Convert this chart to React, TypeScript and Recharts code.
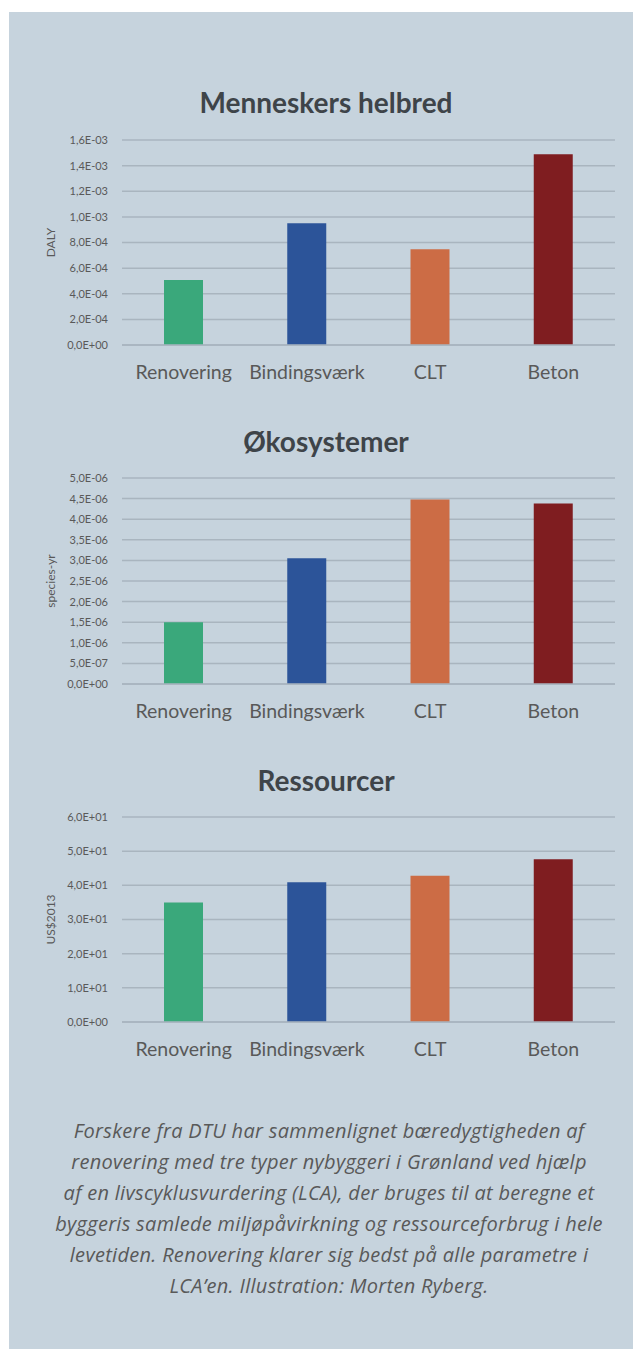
import React from "react";
import { BarChart, Bar, Cell, XAxis, YAxis, CartesianGrid } from "recharts";

const categories = ["Renovering", "Bindingsværk", "CLT", "Beton"];

const helbredValues = [5.07e-4, 9.5e-4, 7.47e-4, 1.489e-3];
const helbredTicks = [0, 2e-4, 4e-4, 6e-4, 8e-4, 1e-3, 1.2e-3, 1.4e-3, 1.6e-3];

const okoValues = [1.5e-6, 3.05e-6, 4.48e-6, 4.38e-6];
const okoTicks = [0, 5e-7, 1e-6, 1.5e-6, 2e-6, 2.5e-6, 3e-6, 3.5e-6, 4e-6, 4.5e-6, 5e-6];

const ressourceValues = [35.0, 40.9, 42.8, 47.6];
const ressourceTicks = [0, 10, 20, 30, 40, 50, 60];

const BAR_COLORS = ["#3aa87b", "#2c5499", "#cc6c45", "#7f1d20"];

const captionLines = [
  "Forskere fra DTU har sammenlignet bæredygtigheden af",
  "renovering med tre typer nybyggeri i Grønland ved hjælp",
  "af en livscyklusvurdering (LCA), der bruges til at beregne et",
  "byggeris samlede miljøpåvirkning og ressourceforbrug i hele",
  "levetiden. Renovering klarer sig bedst på alle parametre i",
  "LCA’en. Illustration: Morten Ryberg.",
];

const FONT = "Lato, 'Open Sans', sans-serif";
const GRID = "#a9b5bf";
const TEXT = "#595959";

// 1,6E-03 style labels like Excel (Danish decimal comma)
const fmtExp = (v: number) => {
  if (v === 0) return "0,0E+00";
  const [m, e] = v.toExponential(1).split("e");
  const n = parseInt(e, 10);
  return `${m.replace(".", ",")}E${n < 0 ? "-" : "+"}${String(Math.abs(n)).padStart(2, "0")}`;
};

const yLabel = (text: string) => (props: any) => {
  const vb = props.viewBox || {};
  const cy = vb.y + vb.height / 2;
  return (
    <text
      x={50}
      y={cy}
      transform={`rotate(-90, 50, ${cy})`}
      textAnchor="middle"
      dominantBaseline="central"
      fontSize={12}
      fill={TEXT}
      fontFamily={FONT}
    >
      {text}
    </text>
  );
};

interface SectionProps {
  top: number;
  title: string;
  unit: string;
  values: number[];
  ticks: number[];
  plotTop: number;
  plotBottom: number;
}

function Section({ top, title, unit, values, ticks, plotTop, plotBottom }: SectionProps) {
  const data = categories.map((name, i) => ({ name, value: values[i] }));
  return (
    <div style={{ position: "absolute", left: 0, top, width: 633, height: plotBottom + 40 }}>
      <div
        style={{
          position: "absolute",
          left: 0,
          width: 652,
          top: 7,
          textAlign: "center",
          fontFamily: FONT,
          fontWeight: 700,
          fontSize: 28,
          lineHeight: "30px",
          color: "#3e4449",
        }}
      >
        {title}
      </div>
      <BarChart
        width={633}
        height={plotBottom + 40}
        data={data}
        margin={{ top: plotTop, right: 18, left: 0, bottom: 0 }}
        style={{ fontFamily: FONT }}
      >
        <CartesianGrid vertical={false} stroke={GRID} strokeWidth={1.5} />
        <XAxis
          dataKey="name"
          height={40}
          tickLine={false}
          axisLine={{ stroke: GRID, strokeWidth: 1.5 }}
          tickSize={0}
          tickMargin={20}
          interval={0}
          tick={{ fontSize: 19.5, fill: TEXT, fontFamily: FONT }}
        />
        <YAxis
          width={122}
          domain={[ticks[0], ticks[ticks.length - 1]]}
          ticks={ticks}
          interval={0}
          tickFormatter={fmtExp}
          axisLine={false}
          tickLine={false}
          tickSize={0}
          tickMargin={14}
          tick={{ fontSize: 11, fill: TEXT, fontFamily: FONT }}
          label={yLabel(unit)}
        />
        <Bar dataKey="value" barSize={39} isAnimationActive={false}>
          {data.map((_, i) => (
            <Cell key={`bar-${i}`} fill={BAR_COLORS[i]} />
          ))}
        </Bar>
      </BarChart>
    </div>
  );
}

export default function App() {
  return (
    <div style={{ position: "absolute", left: 0, top: 0, width: 633, height: 1349, background: "#ffffff" }}>
      <div style={{ position: "absolute", left: 9, top: 12, width: 624, height: 1337, background: "#c6d3dd" }} />
      <Section top={80} title="Menneskers helbred" unit="DALY" values={helbredValues} ticks={helbredTicks} plotTop={60} plotBottom={265} />
      <Section top={419} title="Økosystemer" unit="species-yr" values={okoValues} ticks={okoTicks} plotTop={59} plotBottom={265} />
      <Section top={758} title="Ressourcer" unit="US$2013" values={ressourceValues} ticks={ressourceTicks} plotTop={59} plotBottom={264} />
      {/* billedtekst */}
      <div
        style={{
          position: "absolute",
          left: 25,
          width: 608,
          top: 1115,
          textAlign: "center",
          fontFamily: "'Open Sans', Lato, sans-serif",
          fontStyle: "italic",
          fontSize: 20,
          letterSpacing: 0.3,
          lineHeight: "31px",
          color: TEXT,
          whiteSpace: "nowrap",
        }}
      >
        {captionLines.map((line, i) => (
          <div key={i}>{line}</div>
        ))}
      </div>
    </div>
  );
}
